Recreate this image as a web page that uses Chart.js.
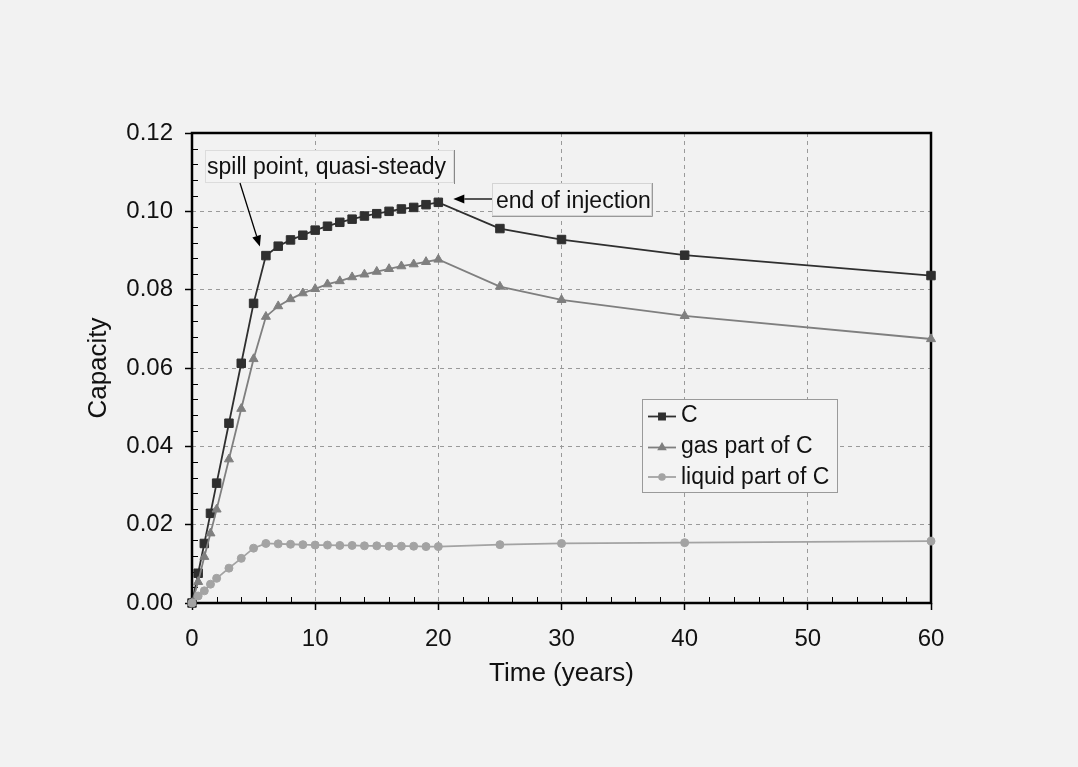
<!DOCTYPE html>
<html><head><meta charset="utf-8">
<script src="https://cdn.jsdelivr.net/npm/chart.js@4.4.0/dist/chart.umd.min.js"></script>
<style>html,body{margin:0;padding:0;background:#f2f2f2;}#wrap{width:1078px;height:767px;}</style>
</head><body><div id="wrap"><canvas id="c" width="1078" height="767"></canvas></div>
<script>
const years = [0,0.5,1,1.5,2,3,4,5,6,7,8,9,10,11,12,13,14,15,16,17,18,19,20,25,30,40,60];
const capTotal = [0,0.0076,0.0152,0.0229,0.0306,0.0459,0.0612,0.0765,0.0887,0.0911,0.0927,0.0939,0.0952,0.0962,0.0972,0.0980,0.0988,0.0994,0.1000,0.1006,0.1010,0.1017,0.1023,0.0956,0.0928,0.0888,0.0836];
const capGas = [0,0.0054,0.0118,0.0178,0.0239,0.0367,0.0496,0.0623,0.0731,0.0758,0.0776,0.0791,0.0802,0.0814,0.0822,0.0832,0.0839,0.0846,0.0853,0.0860,0.0865,0.0871,0.0877,0.0808,0.0774,0.0733,0.0674];
const capLiquid = [0,0.0018,0.0031,0.0048,0.0063,0.0089,0.0114,0.0140,0.0152,0.0151,0.0150,0.0149,0.0148,0.0148,0.0147,0.0147,0.0146,0.0146,0.0145,0.0145,0.0145,0.0144,0.0144,0.0149,0.0152,0.0154,0.0158];
const seriesLabels = ['C','gas part of C','liquid part of C'];
const xTickValues = [0,10,20,30,40,50,60];
const yTickValues = [0,0.02,0.04,0.06,0.08,0.10,0.12];
const annotations = [
  {text:'spill point, quasi-steady', atYear:6, atValue:0.0887},
  {text:'end of injection', atYear:20, atValue:0.1023}
];

const FONT = "'Liberation Sans', Arial, Helvetica, sans-serif";
const colors = ['#2f2f2f','#7f7f7f','#a3a3a3'];
const styles = ['rect','triangle','circle'];
const radii = [6,5.2,4];
const seriesData = [capTotal, capGas, capLiquid];

function pts(arr){ return years.map((x,i)=>({x:x,y:arr[i]})); }

function arrow(ctx, x1,y1,x2,y2){
  const ang = Math.atan2(y2-y1,x2-x1), L=11, W=4.5;
  const bx = x2 - L*Math.cos(ang), by = y2 - L*Math.sin(ang);
  ctx.beginPath(); ctx.moveTo(x1,y1); ctx.lineTo(bx,by); ctx.stroke();
  ctx.beginPath(); ctx.moveTo(x2,y2);
  ctx.lineTo(bx + W*Math.sin(ang), by - W*Math.cos(ang));
  ctx.lineTo(bx - W*Math.sin(ang), by + W*Math.cos(ang));
  ctx.closePath(); ctx.fill();
}

const framePlugin = {
  id:'frame',
  beforeDatasetsDraw(chart){
    const {ctx, chartArea:a, scales:{x,y}} = chart;
    ctx.save();
    ctx.strokeStyle='#000'; ctx.lineWidth=1;
    ctx.beginPath();
    for(let v=2; v<60; v+=2){ if(v%10===0) continue; const px=Math.round(x.getPixelForValue(v))+0.5; ctx.moveTo(px,a.bottom); ctx.lineTo(px,a.bottom-6); }
    for(let k=1;k<30;k++){ if(k%5===0) continue; const py=Math.round(y.getPixelForValue(k*0.004))+0.5; ctx.moveTo(a.left,py); ctx.lineTo(a.left+6,py); }
    ctx.stroke();
    ctx.lineWidth=2.5;
    ctx.strokeRect(a.left, a.top, a.right-a.left, a.bottom-a.top);
    ctx.restore();
  },
  afterDraw(chart){
    const {ctx, scales:{x,y}} = chart;
    ctx.save();
    ctx.font = '23px ' + FONT;
    ctx.textBaseline='alphabetic';
    // spill annotation box
    ctx.fillStyle='#f3f3f3';
    ctx.fillRect(205,150,249,33);
    ctx.strokeStyle='#dcdcdc'; ctx.lineWidth=1;
    ctx.strokeRect(205.5,150.5,248,32);
    ctx.strokeStyle='#888'; ctx.beginPath(); ctx.moveTo(454.5,150); ctx.lineTo(454.5,184); ctx.stroke();
    ctx.fillStyle='#111';
    ctx.fillText(annotations[0].text, 207, 174);
    // end annotation box
    ctx.fillStyle='#f3f3f3';
    ctx.fillRect(492,183,160,33);
    ctx.strokeStyle='#d4d4d4'; ctx.strokeRect(492.5,183.5,159,32);
    ctx.strokeStyle='#999'; ctx.beginPath(); ctx.moveTo(652.5,183); ctx.lineTo(652.5,216.5); ctx.lineTo(492,216.5); ctx.stroke();
    ctx.fillStyle='#111';
    ctx.fillText(annotations[1].text, 496, 208);
    // arrows
    ctx.strokeStyle='#000'; ctx.fillStyle='#000'; ctx.lineWidth=1.3;
    const t1x = x.getPixelForValue(annotations[0].atYear)-6, t1y = y.getPixelForValue(annotations[0].atValue)-9;
    arrow(ctx, 240,183, t1x, t1y);
    const t2x = x.getPixelForValue(annotations[1].atYear)+15, t2y = 199;
    arrow(ctx, 492,199, t2x, t2y);
    // legend
    ctx.fillStyle='#f3f3f3';
    ctx.fillRect(642,399,195,93);
    ctx.strokeStyle='#9a9a9a'; ctx.lineWidth=1;
    ctx.strokeRect(642.5,399.5,195,93);
    const rowY=[416.5,447.5,477];
    const baseY=[422,453,484];
    chart.data.datasets.forEach((ds,i)=>{
      ctx.strokeStyle=ds.borderColor; ctx.lineWidth=1.8;
      ctx.beginPath(); ctx.moveTo(648,rowY[i]); ctx.lineTo(676,rowY[i]); ctx.stroke();
      ctx.fillStyle=ds.borderColor; ctx.strokeStyle=ds.borderColor;
      Chart.helpers.drawPoint(ctx,{pointStyle:ds.pointStyle,radius:ds.pointRadius*0.72,rotation:0,borderWidth:1},662,rowY[i]);
      ctx.fillStyle='#111';
      ctx.font='23px '+FONT;
      ctx.fillText(ds.label, 681, baseY[i]);
    });
    ctx.restore();
  }
};

Chart.defaults.font.family = FONT;
Chart.defaults.color = '#111';

new Chart(document.getElementById('c'), {
  type:'line',
  data:{
    datasets: seriesData.map((arr,i)=>({
      label: seriesLabels[i],
      data: pts(arr),
      borderColor: colors[i],
      backgroundColor: colors[i],
      pointBackgroundColor: colors[i],
      pointBorderColor: colors[i],
      pointStyle: styles[i],
      pointRadius: radii[i],
      pointBorderWidth: 1,
      borderWidth: 1.8,
      tension: 0,
      clip: false,
      order: 3 - i
    }))
  },
  options:{
    responsive:false, animation:false, devicePixelRatio:1,
    layout:{padding:{left:79,right:147,top:133,bottom:74}},
    plugins:{legend:{display:false}, tooltip:{enabled:false}},
    scales:{
      x:{
        type:'linear', min:0, max:60,
        afterFit(s){ s.height = 90; },
        afterBuildTicks(s){ s.ticks = xTickValues.map(v=>({value:v})); },
        ticks:{ font:{size:24}, padding:15, maxRotation:0, autoSkip:false, color:'#111', callback:v=>String(v) },
        grid:{ color:'#9a9a9a', lineWidth:1, drawTicks:true, tickLength:7, tickColor:'#000', tickWidth:1.5, tickBorderDash:[] },
        border:{ display:false, dash:[4,4] },
        title:{ display:true, text:'Time (years)', font:{size:26}, color:'#111', padding:{top:4,bottom:4} }
      },
      y:{
        type:'linear', min:0, max:0.12,
        afterFit(s){ s.width = 113; },
        afterBuildTicks(s){ s.ticks = yTickValues.map(v=>({value:v})); },
        ticks:{ font:{size:24}, padding:12, color:'#111', callback:v=>Number(v).toFixed(2) },
        grid:{ color:'#9a9a9a', lineWidth:1, drawTicks:true, tickLength:7, tickColor:'#000', tickWidth:1.5, tickBorderDash:[] },
        border:{ display:false, dash:[4,4] },
        title:{ display:true, text:'Capacity', font:{size:26}, color:'#111', padding:{top:4,bottom:4} }
      }
    }
  },
  plugins:[framePlugin]
});
</script>
</body></html>
